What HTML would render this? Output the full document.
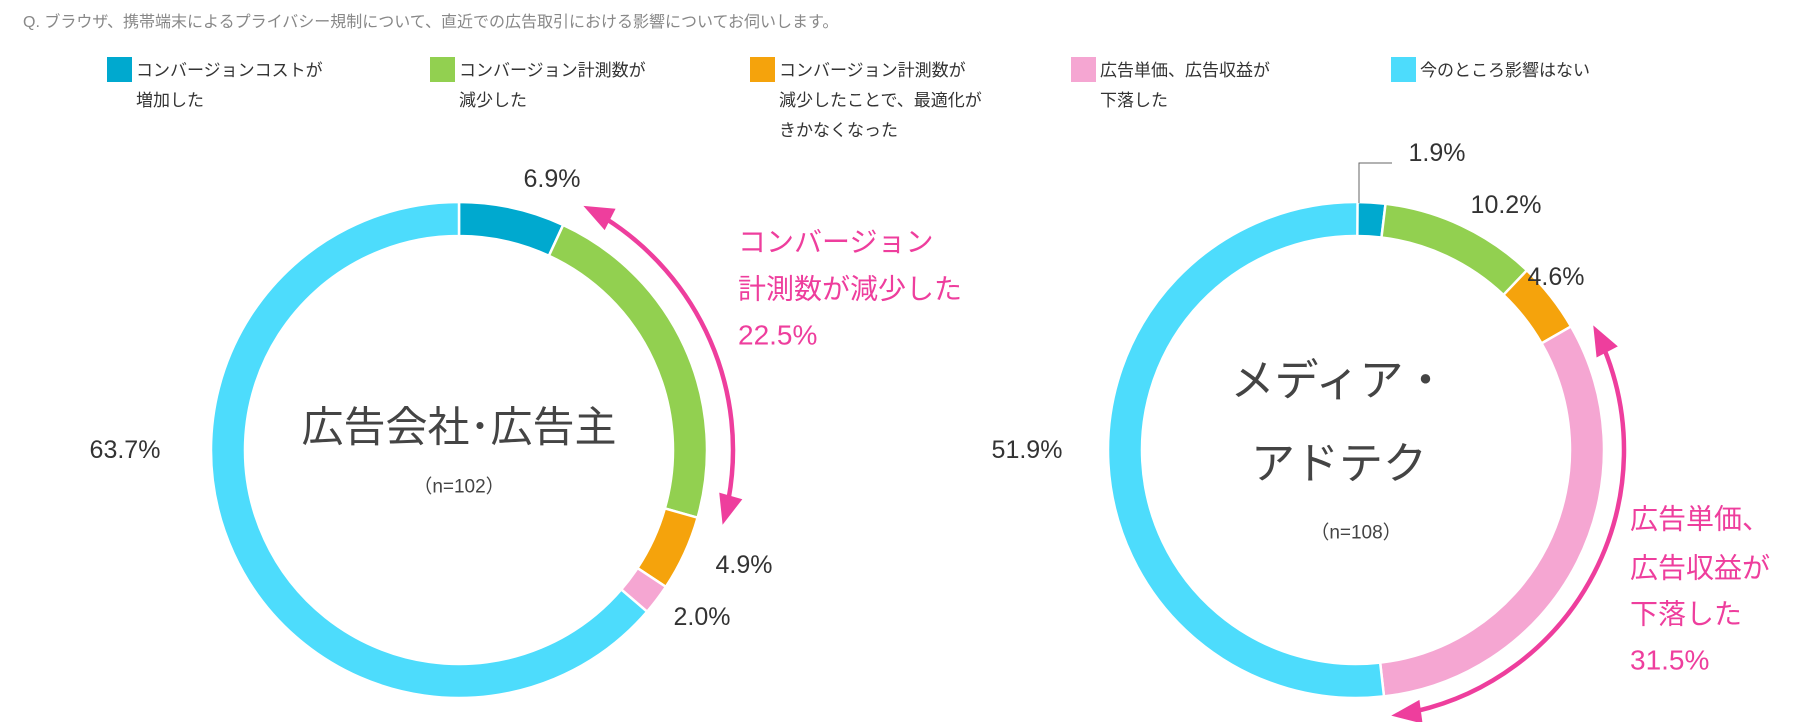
<!DOCTYPE html>
<html><head><meta charset="utf-8">
<style>
body{margin:0;background:#fff;width:1803px;height:722px;overflow:hidden;font-family:"Liberation Sans","Noto Sans CJK JP",sans-serif;}
.t{position:absolute;white-space:nowrap}
</style></head><body>
<div class="t" style="left:23px;top:8px;font-size:16px;color:#888">Q. ブラウザ、携帯端末によるプライバシー規制について、直近での広告取引における影響についてお伺いします。</div>
<div id="legend"></div>
<svg id="chart" width="1803" height="722" style="position:absolute;left:0;top:0"></svg>
<script>
const categories=["コンバージョンコストが増加した","コンバージョン計測数が減少した","コンバージョン計測数が減少したことで、最適化がきかなくなった","広告単価、広告収益が下落した","今のところ影響はない"];
const legendLines=[["コンバージョンコストが","増加した"],["コンバージョン計測数が","減少した"],["コンバージョン計測数が","減少したことで、最適化が","きかなくなった"],["広告単価、広告収益が","下落した"],["今のところ影響はない"]];
const colors=["#00a9cf","#92d050","#f5a30c","#f5a6d2","#4ddcfc"];
const valuesAgency=[6.9,22.5,4.9,2.0,63.7];
const valuesMedia=[1.9,10.2,4.6,31.5,51.9];
const legX=[107,430,750,1071,1391];
const NS="http://www.w3.org/2000/svg";
const svg=document.getElementById('chart');
const leg=document.getElementById('legend');
legendLines.forEach((lines,i)=>{
  const sq=document.createElement('div');
  
  
  sq.style.cssText=`position:absolute;left:${legX[i]}px;top:57px;width:25px;height:25px;background:${colors[i]}`;
  leg.appendChild(sq);
  const tx=document.createElement('div');
  
  
  tx.className='t';
  tx.style.cssText=`left:${legX[i]+29}px;top:56px;font-size:17px;line-height:30px;color:#333`;
  tx.innerHTML=lines.join('<br>');
  leg.appendChild(tx);
});
function pt(cx,cy,r,p){const a=p/100*2*Math.PI;return [cx+r*Math.sin(a),cy-r*Math.cos(a)];}
function donut(cx,cy,vals,name){
  const R=248,r=214;let acc=0;
  vals.forEach((v,i)=>{
    const a0=acc,a1=acc+v;acc=a1;
    const [x0,y0]=pt(cx,cy,R,a0),[x1,y1]=pt(cx,cy,R,a1),[x2,y2]=pt(cx,cy,r,a1),[x3,y3]=pt(cx,cy,r,a0);
    const lg=v>50?1:0;
    const p=document.createElementNS(NS,'path');
    p.setAttribute('d',`M${x0},${y0}A${R},${R} 0 ${lg} 1 ${x1},${y1}L${x2},${y2}A${r},${r} 0 ${lg} 0 ${x3},${y3}Z`);
    p.setAttribute('fill',colors[i]);p.setAttribute('stroke','#fff');p.setAttribute('stroke-width','2.5');
    
    
    svg.appendChild(p);
  });
}
function text(x,y,s,size,fill,name,anchor){
  const t=document.createElementNS(NS,'text');
  t.setAttribute('x',x);t.setAttribute('y',y);t.setAttribute('font-size',size);t.setAttribute('fill',fill);
  t.setAttribute('text-anchor',anchor||'middle');t.setAttribute('dominant-baseline','central');
  t.setAttribute('font-family','"Liberation Sans","Noto Sans CJK JP",sans-serif');
  t.textContent=s;
  
  
  svg.appendChild(t);
}
function arrow(cx,cy,rad,p0,p1,name){
  const c='#ee3e9d';
  const [x0,y0]=pt(cx,cy,rad,p0+1.5),[x1,y1]=pt(cx,cy,rad,p1-1.5);
  const g=document.createElementNS(NS,'g');
  
  
  const a=document.createElementNS(NS,'path');
  a.setAttribute('d',`M${x0},${y0}A${rad},${rad} 0 0 1 ${x1},${y1}`);
  a.setAttribute('fill','none');a.setAttribute('stroke',c);a.setAttribute('stroke-width','4.5');
  g.appendChild(a);
  [[p0,1],[p1,-1]].forEach(([p,d])=>{
    const ang=p/100*2*Math.PI;
    const tip=pt(cx,cy,rad,p);
    const tx=Math.cos(ang)*d, ty=Math.sin(ang)*d;
    const bx=tip[0]+tx*30, by=tip[1]+ty*30;
    const nx=Math.sin(ang),ny=-Math.cos(ang);
    const h=document.createElementNS(NS,'polygon');
    h.setAttribute('points',`${tip[0]},${tip[1]} ${bx+nx*12},${by+ny*12} ${bx-nx*12},${by-ny*12}`);
    h.setAttribute('fill',c);
    g.appendChild(h);
  });
  svg.appendChild(g);
}
donut(459,450,valuesAgency,'agency-donut');
donut(1356,450,valuesMedia,'media-donut');
arrow(459,450,274,valuesAgency[0]+0.6,valuesAgency[0]+valuesAgency[1],'agency-bracket-arrow');
arrow(1356,450,268,valuesMedia[0]+valuesMedia[1]+valuesMedia[2]+0.6,valuesMedia[0]+valuesMedia[1]+valuesMedia[2]+valuesMedia[3]-0.3,'media-bracket-arrow');
const g='#333';
text(552,179,valuesAgency[0].toFixed(1)+'%',25,g,'label-agency-cost');
text(744,565,valuesAgency[2].toFixed(1)+'%',25,g,'label-agency-optimize');
text(702,617,valuesAgency[3].toFixed(1)+'%',25,g,'label-agency-price');
text(125,450,valuesAgency[4].toFixed(1)+'%',25,g,'label-agency-none');
text(738,242,'コンバージョン',28,'#ee3e9d','callout-agency-line1','start');
text(738,289,'計測数が減少した',28,'#ee3e9d','callout-agency-line2','start');
text(738,335,valuesAgency[1].toFixed(1)+'%',28,'#ee3e9d','callout-agency-value','start');
text(459,427,'広告会社･広告主',42,'#444','center-agency-title');
text(459,487,'（n=102）',19,'#444','center-agency-n');
text(1437,153,valuesMedia[0].toFixed(1)+'%',25,g,'label-media-cost');
text(1506,205,valuesMedia[1].toFixed(1)+'%',25,g,'label-media-count');
text(1556,277,valuesMedia[2].toFixed(1)+'%',25,g,'label-media-optimize');
text(1027,450,valuesMedia[4].toFixed(1)+'%',25,g,'label-media-none');
text(1630,519,'広告単価、',28,'#ee3e9d','callout-media-line1','start');
text(1630,568,'広告収益が',28,'#ee3e9d','callout-media-line2','start');
text(1630,614,'下落した',28,'#ee3e9d','callout-media-line3','start');
text(1630,660,valuesMedia[3].toFixed(1)+'%',28,'#ee3e9d','callout-media-value','start');
text(1339,381,'メディア・',44,'#444','center-media-title1');
text(1339,464,'アドテク',44,'#444','center-media-title2');
text(1356,533,'（n=108）',19,'#444','center-media-n');
const ld=document.createElementNS(NS,'polyline');
ld.setAttribute('points','1359,203 1359,163 1392,163');
ld.setAttribute('fill','none');ld.setAttribute('stroke','#666');ld.setAttribute('stroke-width','1');


svg.appendChild(ld);
</script>
</body></html>
